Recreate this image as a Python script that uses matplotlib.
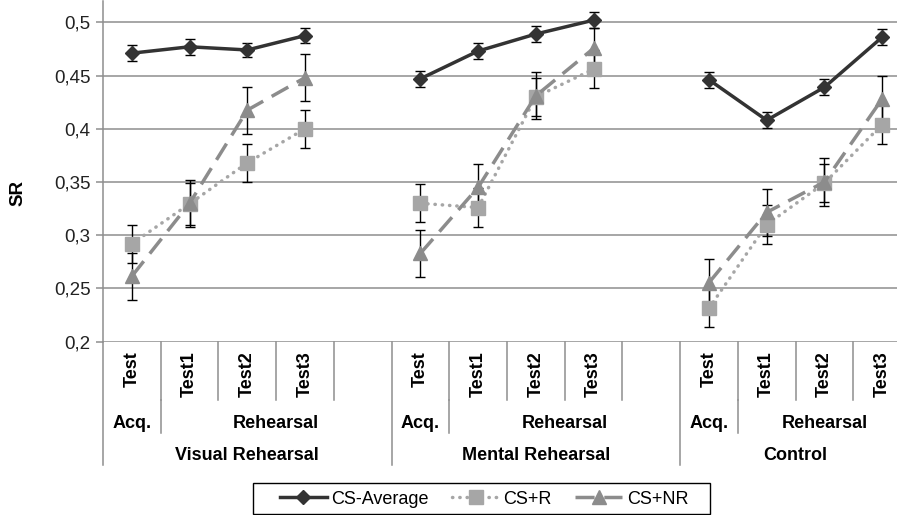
import matplotlib
matplotlib.use("Agg")
import matplotlib.pyplot as plt
import numpy as np
from matplotlib.lines import Line2D
from matplotlib.patches import Rectangle
from matplotlib.ticker import FixedLocator, FuncFormatter

plt.rcParams["font.family"] = ["Liberation Sans", "DejaVu Sans"]

nan = np.nan

# slot labels (14 category slots, blanks separate the groups)
tests = ["Test", "Test1", "Test2", "Test3", "",
         "Test", "Test1", "Test2", "Test3", "",
         "Test", "Test1", "Test2", "Test3"]
phases = [("Acq.", 0, 0), ("Rehearsal", 1, 4),
          ("Acq.", 5, 5), ("Rehearsal", 6, 9),
          ("Acq.", 10, 10), ("Rehearsal", 11, 13)]
groups = [("Visual Rehearsal", 0, 4), ("Mental Rehearsal", 5, 9), ("Control", 10, 13)]

cs_avg = [0.471, 0.477, 0.474, 0.4875, nan, 0.447, 0.473, 0.489, 0.502, nan, 0.446, 0.408, 0.439, 0.486]
cs_avg_err = [0.0075, 0.0075, 0.007, 0.007, nan, 0.0075, 0.0075, 0.0075, 0.0075, nan, 0.0075, 0.0075, 0.0075, 0.0075]
cs_r = [0.292, 0.3295, 0.368, 0.400, nan, 0.330, 0.326, 0.430, 0.456, nan, 0.2315, 0.310, 0.349, 0.404]
cs_r_err = [0.018, 0.020, 0.018, 0.018, nan, 0.018, 0.018, 0.018, 0.018, nan, 0.018, 0.018, 0.018, 0.018]
cs_nr = [0.2615, 0.330, 0.4175, 0.448, nan, 0.283, 0.345, 0.431, 0.4755, nan, 0.2555, 0.3215, 0.350, 0.428]
cs_nr_err = [0.022, 0.022, 0.022, 0.022, nan, 0.022, 0.022, 0.022, 0.019, nan, 0.022, 0.022, 0.023, 0.022]

W, H = 897, 515
fig = plt.figure(figsize=(W / 100, H / 100), dpi=100)


def fx(px):
    return px / W


def fy(py):
    return 1 - py / H


x0, x1 = 103, 911
y_top, y_bot = 1, 341.7
ax = fig.add_axes([fx(x0), fy(y_bot), fx(x1) - fx(x0), fy(y_top) - fy(y_bot)])

x = np.arange(len(tests))
grid_c = "#8e8e8e"

# error bars first, markers sit on top of them
for vals, errs in ((cs_avg, cs_avg_err), (cs_r, cs_r_err), (cs_nr, cs_nr_err)):
    ax.errorbar(x, vals, yerr=errs, fmt="none", ecolor="black", elinewidth=1.0,
                capsize=3.5, capthick=1.0, zorder=3)

ax.plot(x, cs_avg, color="#333333", lw=2.5, marker="D", ms=7.5, mec="#333333",
        mfc="#333333", zorder=4, label="CS-Average")
ax.plot(x, cs_r, color="#a6a6a6", lw=2.5, ls=(0, (0.1, 2.0)), dash_capstyle="round",
        marker="s", ms=9.5, mfc="#a6a6a6", mec="#a6a6a6", zorder=4, label="CS+R")
ax.plot(x, cs_nr, color="#8c8c8c", lw=2.5, ls=(0, (5.5, 2.8)),
        marker="^", ms=10, mfc="#8c8c8c", mec="#8c8c8c", zorder=4, label="CS+NR")

ax.set_xlim(-0.5, len(tests) - 0.5)
ax.set_ylim(0.2, 0.52)
ax.yaxis.set_major_locator(FixedLocator([0.2, 0.25, 0.3, 0.35, 0.4, 0.45, 0.5]))
ax.yaxis.set_major_formatter(FuncFormatter(lambda v, p: f"{v:g}".replace(".", ",")))
ax.grid(axis="y", color=grid_c, lw=1.1)
ax.set_axisbelow(True)
ax.set_xticks([])
for s in ("top", "right", "bottom"):
    ax.spines[s].set_visible(False)
ax.spines["left"].set_color(grid_c)
ax.spines["left"].set_linewidth(1.1)
ax.tick_params(axis="y", length=5, width=1.1, color=grid_c, labelsize=13.5,
               labelcolor="#222222", pad=4)
fig.text(fx(18), fy(193), "SR", rotation=90, ha="center", va="center",
         fontsize=13.5, fontweight="bold")


def slot_px(k):
    # left edge pixel of slot k
    return x0 + (x1 - x0) * k / len(tests)


def vline(px, ya, yb):
    fig.add_artist(Line2D([fx(px), fx(px)], [fy(ya), fy(yb)], color=grid_c, lw=1.1))


# multi-level category axis
for k, t in enumerate(tests):
    if k not in (0, 5, 10):
        vline(slot_px(k), y_bot, 400)
    if t:
        fig.text(fx(slot_px(k + 0.5)), fy(351), t, rotation=90, ha="center", va="top",
                 fontsize=13, fontweight="bold")
for name, a, b in phases:
    fig.text(fx((slot_px(a) + slot_px(b + 1)) / 2), fy(423), name, ha="center",
             va="center", fontsize=13, fontweight="bold")
    if name == "Rehearsal":
        vline(slot_px(a), 400, 433)
for name, a, b in groups:
    fig.text(fx((slot_px(a) + slot_px(b + 1)) / 2), fy(455), name, ha="center",
             va="center", fontsize=13, fontweight="bold")
    vline(slot_px(a), y_bot, 465)

leg = fig.legend(loc="center", bbox_to_anchor=(fx(484), fy(499)), ncol=3,
                 fontsize=13, frameon=False, handlelength=2.6, columnspacing=1.3,
                 handletextpad=0.25)
fig.add_artist(Rectangle((fx(253), fy(514)), fx(710) - fx(253), fy(483) - fy(514),
                         fill=False, edgecolor="black", lw=1.0))

fig.savefig("out.png", dpi=100)
